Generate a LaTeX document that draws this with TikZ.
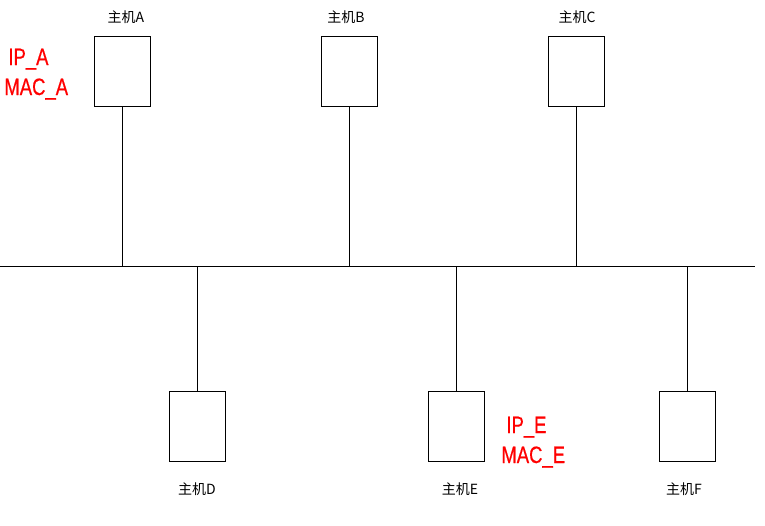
\documentclass[tikz,border=0pt]{standalone}
\usepackage{fontspec}
\newfontfamily\cjk{Noto Sans CJK SC}
\newfontfamily\addrfont{Liberation Sans}[FakeStretch=0.78,FakeBold=0.5]
\usetikzlibrary{positioning}

\begin{document}
\begin{tikzpicture}[x=1pt,y=-1pt,line width=0.8pt,
    host/.style={rectangle,draw,minimum width=56pt,minimum height=70pt,inner sep=0pt},
    hname/.style={font=\cjk\fontsize{14}{15}\selectfont,inner sep=0pt},
    addr/.style={font=\addrfont\fontsize{23.7}{28}\selectfont,text=red,inner sep=0pt,anchor=base west}]
   \useasboundingbox (0,0) rectangle (765,525);
   % bus
   \coordinate (busL) at (0,266);
   \coordinate (busR) at (755,266);
   \draw (busL) -- (busR);
   % hosts
   \node[host] (A) at (122,71) {};
   \node[host] (B) at (349,71) {};
   \node[host] (C) at (576,71) {};
   \node[host] (D) at (197,426) {};
   \node[host] (E) at (456,426) {};
   \node[host] (F) at (687,426) {};
   \foreach \h in {A,B,C,D,E,F}
     \draw (\h) -- (\h |- busL);
   % names
   \node[hname] (nameA) [above=12pt of A,xshift=4pt] {主机A};
   \node[hname] (nameB) [above=12pt of B,xshift=-3pt] {主机B};
   \node[hname] (nameC) [above=12pt of C,xshift=1pt] {主机C};
   \node[hname] (nameD) [below=21pt of D] {主机D};
   \node[hname] (nameE) [below=21pt of E,xshift=4pt] {主机E};
   \node[hname] (nameF) [below=21pt of F,xshift=-3pt] {主机F};
   % addresses
   \node[addr] (ipA)  at (8,65)   {IP\_A};
   \node[addr] (macA) at (4,95)   {MAC\_A};
   \node[addr] (ipE)  at (506,433) {IP\_E};
   \node[addr] (macE) at (501,463) {MAC\_E};
\end{tikzpicture}
\end{document}
